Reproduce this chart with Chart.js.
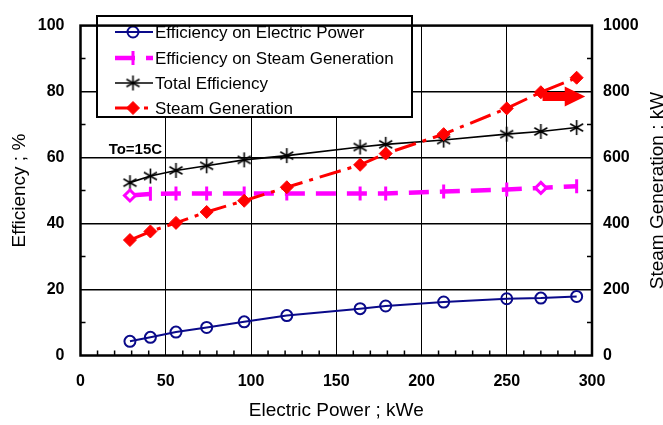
<!DOCTYPE html>
<html>
<head>
<meta charset="utf-8">
<script src="https://cdn.jsdelivr.net/npm/chart.js@4.4.1/dist/chart.umd.min.js"></script>
<style>
  html, body { margin: 0; padding: 0; background: #fff; }
  #wrap { width: 663px; height: 425px; }
</style>
</head>
<body>
<div id="wrap"><canvas id="chart" width="663" height="425"></canvas></div>
<script>
// values
const power    = [29, 41, 56, 74, 96, 121, 164, 179, 213, 250, 270, 291];       // kWe
const elecEff  = [4.3, 5.5, 7.1, 8.5, 10.2, 12.1, 14.2, 15.0, 16.2, 17.2, 17.4, 17.9];
const steamEff = [48.5, 49.0, 49.1, 49.1, 49.1, 49.1, 49.1, 49.1, 49.7, 50.3, 50.8, 51.3];
const totalEff = [52.4, 54.4, 56.1, 57.5, 59.3, 60.6, 63.2, 64.0, 65.3, 67.1, 67.9, 69.1];
const steamGen = [350, 376, 402, 435, 469, 510, 578, 612, 671, 749, 798, 842]; // kW (right axis)

const seriesNames = ['Efficiency on Electric Power', 'Efficiency on Steam Generation', 'Total Efficiency', 'Steam Generation'];
const xTickLabels = [0, 50, 100, 150, 200, 250, 300];
const yTickLabels = [0, 20, 40, 60, 80, 100];
const y1TickLabels = [0, 200, 400, 600, 800, 1000];

const FONT = '"Liberation Sans", Arial, Helvetica, sans-serif';

// six-armed asterisk marker
function makeAsterisk(size, lw) {
    const c = document.createElement('canvas');
    c.width = size; c.height = size;
    const g = c.getContext('2d');
    const r = size / 2 - 1;
    g.strokeStyle = '#000';
    g.lineWidth = lw;
    g.beginPath();
    [90, 30, 150].forEach(a => {
        const t = a * Math.PI / 180;
        g.moveTo(size / 2 - r * Math.cos(t), size / 2 - r * Math.sin(t));
        g.lineTo(size / 2 + r * Math.cos(t), size / 2 + r * Math.sin(t));
    });
    g.stroke();
    return c;
}
const asterisk = makeAsterisk(17, 1.6);

const pts = ys => power.map((x, i) => ({ x: x, y: ys[i] }));

// magenta series: open diamonds at 1st and 11th point, bars elsewhere
const magStyle = power.map((_, i) => (i === 0 || i === 10) ? 'rectRot' : 'line');
const magRadius = power.map((_, i) => (i === 0 || i === 10) ? 5.5 : 7);

const datasets = [
    {
        label: seriesNames[0], data: pts(elecEff), yAxisID: 'y',
        borderColor: '#0a0a8a', borderWidth: 2, pointStyle: 'circle', pointRadius: 5.5,
        pointBorderWidth: 2, pointBackgroundColor: 'rgba(255,255,255,0)', pointBorderColor: '#0a0a8a', order: 3
    },
    {
        label: seriesNames[1], data: pts(steamEff), yAxisID: 'y',
        borderColor: '#ff00ff', borderWidth: 4.5, borderDash: [20, 11],
        pointStyle: magStyle, pointRadius: magRadius, pointRotation: 90, pointBorderWidth: 3,
        pointBackgroundColor: '#fff', pointBorderColor: '#ff00ff', order: 2
    },
    {
        label: seriesNames[2], data: pts(totalEff), yAxisID: 'y',
        borderColor: '#000', borderWidth: 1.6, pointStyle: asterisk, order: 4
    },
    {
        label: seriesNames[3], data: pts(steamGen), yAxisID: 'y1',
        borderColor: '#ff0000', borderWidth: 3, borderDash: [22, 7, 4, 7],
        pointStyle: 'rectRot', pointRadius: 6.5, pointBorderWidth: 1,
        pointBackgroundColor: '#ff0000', pointBorderColor: '#ff0000', order: 1
    }
];

// arrow pointing at the right axis (data units)
const arrow = { x0: 271, xHead: 284, xTip: 296, y: 785 };
const note = { text: 'To=15C', x: 16.5, y: 62 };

function drawMarker(ctx, ds, x, y) {
    ctx.save();
    ctx.setLineDash([]);
    const style = Array.isArray(ds.pointStyle) ? ds.pointStyle[1] : ds.pointStyle;
    if (style instanceof HTMLCanvasElement) {
        ctx.drawImage(style, x - style.width / 2, y - style.height / 2);
    } else if (Chart.helpers && Chart.helpers.drawPoint) {
        ctx.lineWidth = ds.pointBorderWidth;
        ctx.strokeStyle = ds.pointBorderColor;
        ctx.fillStyle = Array.isArray(ds.pointBackgroundColor) ? ds.pointBackgroundColor[1] : ds.pointBackgroundColor;
        Chart.helpers.drawPoint(ctx, {
            pointStyle: style,
            rotation: ds.pointRotation || 0,
            radius: Array.isArray(ds.pointRadius) ? ds.pointRadius[1] : ds.pointRadius,
            borderWidth: ds.pointBorderWidth
        }, x, y);
    }
    ctx.restore();
}

const decor = {
    id: 'decor',
    afterDatasetsDraw(chart) {
        const ctx = chart.ctx;
        const xs = chart.scales.x, ys = chart.scales.y, y1 = chart.scales.y1;

        // arrow
        const ay = y1.getPixelForValue(arrow.y);
        const ax0 = xs.getPixelForValue(arrow.x0), axh = xs.getPixelForValue(arrow.xHead), axt = xs.getPixelForValue(arrow.xTip);
        ctx.save();
        ctx.fillStyle = '#ff0000';
        ctx.beginPath();
        ctx.moveTo(ax0, ay - 4.5);
        ctx.lineTo(axh, ay - 4.5);
        ctx.lineTo(axh, ay - 10);
        ctx.lineTo(axt, ay);
        ctx.lineTo(axh, ay + 10);
        ctx.lineTo(axh, ay + 4.5);
        ctx.lineTo(ax0, ay + 4.5);
        ctx.closePath();
        ctx.fill();
        ctx.restore();

        // note
        ctx.save();
        ctx.font = 'bold 15px ' + FONT;
        ctx.fillStyle = '#000';
        ctx.textBaseline = 'middle';
        ctx.fillText(note.text, xs.getPixelForValue(note.x), ys.getPixelForValue(note.y) - 1);
        ctx.restore();

        // legend box
        const bx = 97, by = 16, bw = 315, bh = 101;
        ctx.save();
        ctx.fillStyle = '#fff';
        ctx.fillRect(bx, by, bw, bh);
        ctx.lineWidth = 2;
        ctx.strokeStyle = '#000';
        ctx.strokeRect(bx, by, bw, bh);
        const rows = [32, 58, 83, 108];
        ctx.font = '17px ' + FONT;
        ctx.textBaseline = 'middle';
        datasets.forEach((ds, i) => {
            const yy = rows[i];
            ctx.save();
            ctx.strokeStyle = ds.borderColor;
            ctx.lineWidth = ds.borderWidth;
            ctx.setLineDash(ds.borderDash || []);
            ctx.beginPath();
            ctx.moveTo(115, yy);
            ctx.lineTo(153, yy);
            ctx.stroke();
            ctx.restore();
            drawMarker(ctx, ds, 133, yy);
            ctx.fillStyle = '#000';
            ctx.fillText(ds.label, 155, yy + 1);
        });
        ctx.restore();
    },
    afterDraw(chart) {
        const ctx = chart.ctx;
        const a = chart.chartArea;
        const xs = chart.scales.x, ys = chart.scales.y, y1 = chart.scales.y1;
        ctx.save();
        ctx.strokeStyle = '#000';
        ctx.lineWidth = 1.5;
        ctx.beginPath();
        for (let v = 10; v < 300; v += 10) {
            if (v % 50 === 0) continue;
            const px = xs.getPixelForValue(v);
            ctx.moveTo(px, a.bottom);
            ctx.lineTo(px, a.bottom - 5);
        }
        for (let v = 10; v < 100; v += 20) {
            const py = ys.getPixelForValue(v);
            ctx.moveTo(a.left, py);
            ctx.lineTo(a.left + 5, py);
        }
        for (let v = 100; v < 1000; v += 200) {
            const py = y1.getPixelForValue(v);
            ctx.moveTo(a.right, py);
            ctx.lineTo(a.right - 5, py);
        }
        ctx.stroke();
        ctx.lineWidth = 2.5;
        ctx.strokeRect(a.left, a.top, a.right - a.left, a.bottom - a.top);

        // right axis title, reading bottom to top
        ctx.font = '19px ' + FONT;
        ctx.fillStyle = '#000';
        ctx.textAlign = 'center';
        ctx.textBaseline = 'middle';
        ctx.translate(658, (a.top + a.bottom) / 2);
        ctx.rotate(-Math.PI / 2);
        ctx.fillText('Steam Generation ; kW', 0, 0);
        ctx.restore();
    }
};

const tickFont = { family: FONT, size: 16, weight: 'bold' };

new Chart(document.getElementById('chart'), {
    type: 'line',
    data: { datasets: datasets },
    options: {
        responsive: false,
        animation: false,
        devicePixelRatio: 1,
        layout: { padding: { top: 14.5, left: 0, right: 0, bottom: 0 } },
        plugins: { legend: { display: false }, tooltip: { enabled: false } },
        scales: {
            x: {
                type: 'linear', min: 0, max: 300,
                afterFit: s => { s.height = 69.5; },
                border: { display: false },
                grid: {
                    drawTicks: false, lineWidth: 1,
                    color: c => (c.tick && c.tick.value % 50 === 0 && c.tick.value > 0 && c.tick.value < 300) ? '#000' : 'rgba(0,0,0,0)'
                },
                ticks: {
                    stepSize: 10, autoSkip: false, maxRotation: 0, padding: 16, color: '#000', font: tickFont,
                    callback: v => xTickLabels.includes(v) ? v : ''
                },
                title: { display: true, text: 'Electric Power ; kWe', color: '#000', font: { family: FONT, size: 19 }, padding: { top: 0, bottom: 3 } }
            },
            y: {
                position: 'left', min: 0, max: 100,
                afterFit: s => { s.width = 80.5; },
                border: { display: false },
                grid: {
                    drawTicks: false, lineWidth: 1.6,
                    color: c => (c.tick && c.tick.value % 20 === 0 && c.tick.value > 0 && c.tick.value < 100) ? '#000' : 'rgba(0,0,0,0)'
                },
                ticks: {
                    stepSize: 10, autoSkip: false, padding: 16, color: '#000', font: tickFont,
                    callback: v => yTickLabels.includes(v) ? v : ''
                },
                title: { display: true, text: 'Efficiency ; %', color: '#000', font: { family: FONT, size: 19 }, padding: { top: 8, bottom: 0 } }
            },
            y1: {
                position: 'right', min: 0, max: 1000,
                afterFit: s => { s.width = 71; },
                border: { display: false },
                grid: { display: false, drawTicks: false },
                ticks: {
                    stepSize: 100, autoSkip: false, padding: 11, color: '#000', font: tickFont,
                    callback: v => y1TickLabels.includes(v) ? v : ''
                }
            }
        }
    },
    plugins: [decor]
});
</script>
</body>
</html>
